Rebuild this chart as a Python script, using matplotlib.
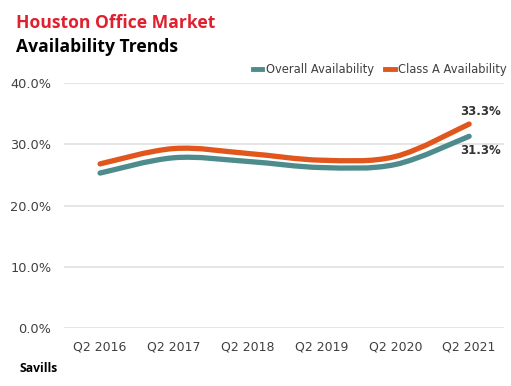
import numpy as np
import matplotlib.pyplot as plt
from matplotlib.path import Path
from matplotlib.patches import PathPatch
from matplotlib.lines import Line2D

quarters = ['Q2 2016', 'Q2 2017', 'Q2 2018', 'Q2 2019', 'Q2 2020', 'Q2 2021']
overall = [25.3, 27.8, 27.2, 26.2, 26.7, 31.3]
class_a = [26.8, 29.3, 28.5, 27.4, 28.0, 33.3]

teal = '#4e8b8c'
orange = '#e0561c'


def smooth_path(xs, ys):
    # Catmull-Rom style bezier through the data points
    xs = np.asarray(xs, float)
    ys = np.asarray(ys, float)
    verts = [(xs[0], ys[0])]
    codes = [Path.MOVETO]
    n = len(xs)
    for i in range(n - 1):
        x0, y0 = (xs[i - 1], ys[i - 1]) if i > 0 else (xs[i], ys[i])
        x3, y3 = (xs[i + 2], ys[i + 2]) if i + 2 < n else (xs[i + 1], ys[i + 1])
        c1 = (xs[i] + (xs[i + 1] - x0) / 6, ys[i] + (ys[i + 1] - y0) / 6)
        c2 = (xs[i + 1] - (x3 - xs[i]) / 6, ys[i + 1] - (y3 - ys[i]) / 6)
        verts += [c1, c2, (xs[i + 1], ys[i + 1])]
        codes += [Path.CURVE4] * 3
    return Path(verts, codes)


fig = plt.figure(figsize=(5.11, 3.86), dpi=100)
ax = fig.add_axes([0.125, 0.150, 0.861, 0.635])

x = np.arange(len(quarters))
for vals, col in [(overall, teal), (class_a, orange)]:
    ax.add_patch(PathPatch(smooth_path(x, vals), fill=False, edgecolor=col,
                           linewidth=3.8, capstyle='round', zorder=3))

ax.set_xlim(-0.49, 5.47)
ax.set_ylim(0, 40)
ax.set_yticks([0, 10, 20, 30, 40])
ax.set_yticklabels([f'{v:.1f}%' for v in [0, 10, 20, 30, 40]])
ax.set_xticks(x)
ax.set_xticklabels(quarters)
ax.grid(axis='y', color='#e3e3e3', linewidth=1.3)
ax.set_axisbelow(True)
for s in ax.spines.values():
    s.set_visible(False)
ax.tick_params(length=0, labelsize=9, labelcolor='#404040')
ax.tick_params(axis='y', pad=9, labelsize=9.3)
ax.tick_params(axis='x', pad=9)

ax.text(x[-1] + 0.15, class_a[-1] + 2.0, f'{class_a[-1]:.1f}%', ha='center', va='center',
        fontsize=8.5, fontweight='bold', color='#333333')
ax.text(x[-1] + 0.15, overall[-1] - 2.3, f'{overall[-1]:.1f}%', ha='center', va='center',
        fontsize=8.5, fontweight='bold', color='#333333')

handles = [Line2D([], [], color=teal, linewidth=3.5),
           Line2D([], [], color=orange, linewidth=3.5)]
fig.legend(handles, ['Overall Availability', 'Class A Availability'],
           loc='center right', bbox_to_anchor=(1.012, 1 - 70 / 386), ncol=2, frameon=False,
           fontsize=8.3, handlelength=0.8, handletextpad=0.3, columnspacing=1.0,
           labelcolor='#404040')

fig.text(16 / 511, 1 - 23 / 386, 'Houston Office Market', color='#e0202e', fontsize=12.6,
         fontweight='bold', family='Open Sans', va='center')
fig.text(16 / 511, 1 - 47 / 386, 'Availability Trends', color='black', fontsize=12.6,
         fontweight='bold', family='Open Sans', va='center')
fig.text(20 / 511, 1 - 368 / 386, 'Savills', color='black', fontsize=8.7,
         fontweight='bold', family='Open Sans', va='center')

fig.savefig('out.png', dpi=100)
